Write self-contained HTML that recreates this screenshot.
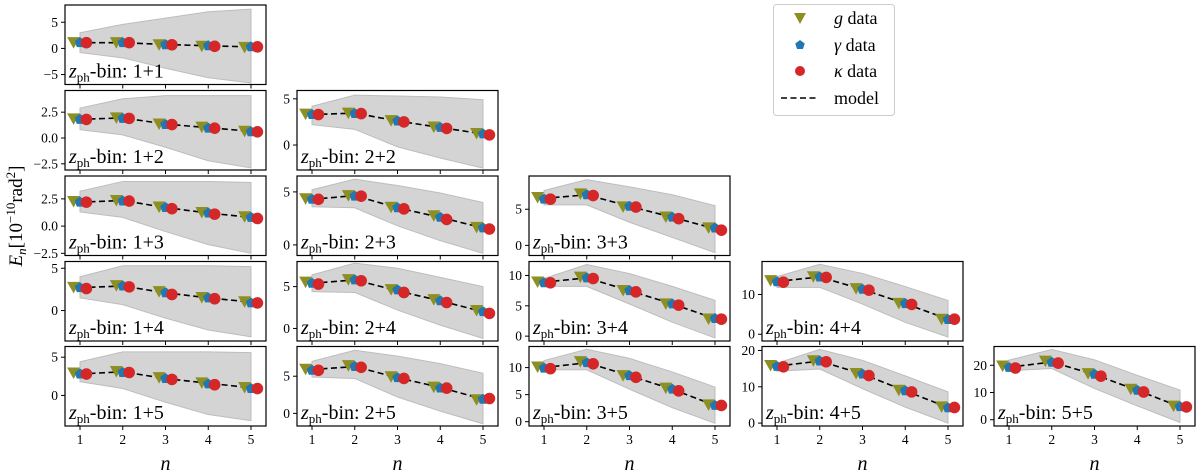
<!DOCTYPE html>
<html><head><meta charset="utf-8">
<style>
html,body{margin:0;padding:0;background:#fff;}
svg{display:block;font-family:"Liberation Serif","DejaVu Serif",serif;}
</style></head>
<body>
<svg id="chart" width="1200" height="471" viewBox="0 0 1200 471" xmlns="http://www.w3.org/2000/svg"></svg>
<script>
const panelLabels = ["1+1","1+2","2+2","1+3","2+3","3+3","1+4","2+4","3+4","4+4","1+5","2+5","3+5","4+5","5+5"];
const panelRows = [0,1,1,2,2,2,3,3,3,3,4,4,4,4,4];
const panelCols = [0,0,1,0,1,2,0,1,2,3,0,1,2,3,4];
const nValues = [1,2,3,4,5];
const gData = [
 [1.2,1.2,0.8,0.5,0.3],[1.9,2.0,1.4,1.1,0.7],[3.4,3.5,2.7,2.0,1.3],
 [2.3,2.4,1.8,1.3,0.9],[4.4,4.7,3.6,2.8,1.7],[6.7,7.2,5.4,4.0,2.5],
 [2.8,3.0,2.3,1.6,1.1],[5.6,5.9,4.7,3.5,2.2],[9.0,9.8,7.6,5.4,2.9],[13.6,14.6,11.6,7.9,3.9],
 [3.0,3.2,2.4,1.7,1.1],[6.0,6.5,5.0,3.6,1.9],[10.2,11.2,8.6,6.3,3.2],[16.0,17.3,13.8,9.2,4.6],[19.9,21.7,17.1,11.4,5.2]];
const gammaData = [
 [1.1,1.1,0.7,0.5,0.3],[1.8,1.9,1.3,0.95,0.6],[3.3,3.4,2.6,1.9,1.2],
 [2.2,2.3,1.7,1.2,0.8],[4.3,4.6,3.5,2.6,1.6],[6.4,7.0,5.4,3.9,2.4],
 [2.7,2.9,2.1,1.5,0.9],[5.4,5.8,4.6,3.3,2.0],[8.8,9.6,7.5,5.3,2.9],[13.2,14.4,11.3,7.7,3.7],
 [2.8,3.0,2.2,1.5,0.9],[5.8,6.3,4.8,3.4,1.9],[9.9,10.9,8.5,6.0,3.0],[15.6,17.1,13.5,8.9,4.2],[19.2,21.1,16.7,10.8,4.8]];
const kappaData = [
 [1.1,1.1,0.7,0.4,0.3],[1.8,1.9,1.3,0.95,0.6],[3.3,3.4,2.5,1.8,1.1],
 [2.2,2.3,1.6,1.1,0.7],[4.3,4.6,3.4,2.4,1.5],[6.4,6.9,5.3,3.7,2.1],
 [2.6,2.8,1.9,1.4,0.9],[5.3,5.7,4.3,3.1,1.8],[8.8,9.5,7.3,5.1,2.8],[13.1,14.3,11.1,7.5,3.8],
 [2.8,3.0,2.1,1.4,0.9],[5.8,6.2,4.7,3.4,2.0],[9.8,10.7,8.2,5.7,3.0],[15.5,16.9,13.1,8.6,4.3],[19.0,20.8,16.0,10.2,4.7]];
const modelData = [
 [1.1,1.1,0.75,0.5,0.3],[1.8,1.95,1.35,1.0,0.65],[3.3,3.45,2.6,1.9,1.2],
 [2.2,2.35,1.7,1.2,0.8],[4.3,4.65,3.5,2.6,1.6],[6.5,7.0,5.4,3.9,2.3],
 [2.7,2.9,2.1,1.5,1.0],[5.4,5.8,4.5,3.3,2.0],[8.9,9.6,7.5,5.3,2.9],[13.3,14.4,11.3,7.7,3.8],
 [2.8,3.1,2.2,1.6,1.0],[5.9,6.3,4.8,3.5,1.9],[10.0,10.9,8.5,6.0,3.0],[15.7,17.1,13.5,8.9,4.3],[19.3,21.2,16.6,10.8,4.8]];
const bandUpper = [
 [3.0,4.6,5.8,7.0,7.5],[2.9,3.8,4.1,4.1,4.1],[4.2,5.4,5.3,5.2,4.9],
 [3.2,4.1,4.1,4.1,4.0],[5.2,6.2,5.6,4.9,4.0],[7.6,9.1,8.1,7.0,5.5],
 [4.0,5.3,5.3,5.3,5.2],[6.4,7.8,7.2,6.1,5.0],[9.5,11.8,10.3,8.2,5.9],[14.5,17.6,15.3,12.0,8.5],
 [4.4,5.7,5.7,5.7,5.6],[7.0,8.5,7.7,6.7,5.4],[11.3,13.4,11.7,9.2,6.4],[16.5,20.3,17.3,13.0,8.6],[21.9,25.8,22.0,16.3,10.9]];
const bandLower = [
 [-0.8,-1.8,-3.8,-5.6,-6.6],[0.8,0.3,-0.9,-2.2,-2.9],[2.2,1.7,-0.2,-1.4,-2.5],
 [1.3,0.8,-0.5,-1.7,-2.5],[3.6,3.5,1.8,0.4,-0.8],[5.6,5.6,3.2,1.1,-1.0],
 [1.5,0.7,-0.9,-2.3,-3.1],[4.4,4.3,2.2,0.4,-1.2],[8.2,8.2,5.3,2.3,-0.3],[11.8,11.8,7.6,3.0,-0.7],
 [1.8,0.9,-0.9,-2.5,-3.3],[4.9,4.7,2.2,0.3,-1.4],[9.6,9.6,6.0,2.6,-0.3],[14.3,14.9,9.5,4.4,0.0],[18.0,18.8,11.5,5.1,-1.0]];
const yMin = [-6.9,-3.1,-2.7,-2.7,-1.0,-1.4,-3.6,-1.5,-0.8,-1.7,-4.0,-1.7,-0.8,-0.8,-2.3];
const yMax = [8.3,4.6,5.9,4.6,6.5,9.6,5.8,8.0,12.3,18.3,6.4,9.0,13.9,21.1,26.9];
const yTickValues = [[-5,0,5],[-2.5,0,2.5],[0,5],[-2.5,0,2.5],[0,5],[0,5],[0,5],[0,5],[0,5,10],[0,10],[0,5],[0,5],[0,5,10],[0,10,20],[0,10,20]];
const yTickLabels = [["−5","0","5"],["−2.5","0.0","2.5"],["0","5"],["−2.5","0.0","2.5"],["0","5"],["0","5"],["0","5"],["0","5"],["0","5","10"],["0","10"],["0","5"],["0","5"],["0","5","10"],["0","10","20"],["0","10","20"]];
const xTickLabels = ["1","2","3","4","5"];

const NS="http://www.w3.org/2000/svg";
const svg=document.getElementById('chart');
function mk(tag,attrs,parent){const e=document.createElementNS(NS,tag);for(const k in attrs)e.setAttribute(k,attrs[k]);(parent||svg).appendChild(e);return e;}
const colLeft=[65,297,529,762,994], rowTop=[5,90.5,176,261.5,346.5], PW=201, PH=79.5;
const OLIVE="#8e8f22", BLUE="#1f77b4", RED="#d62728";
const off=0.15;

for(let p=0;p<panelLabels.length;p++){
  const L=colLeft[panelCols[p]], T=rowTop[panelRows[p]];
  const g=mk('g',{});
  
  
  const xs=n=>L+15+(n-1)*(PW-30)/4;
  const ys=v=>T+PH-(v-yMin[p])/(yMax[p]-yMin[p])*PH;
  const clipId='clip'+p;
  const cp=mk('clipPath',{id:clipId},g);mk('rect',{x:L,y:T,width:PW,height:PH},cp);
  const inner=mk('g',{'clip-path':'url(#'+clipId+')'},g);
  let d='';
  nValues.forEach((n,i)=>{d+=(i?'L':'M')+xs(n)+','+ys(bandUpper[p][i]);});
  for(let i=nValues.length-1;i>=0;i--)d+='L'+xs(nValues[i])+','+ys(bandLower[p][i]);
  const band=mk('path',{d:d+'Z',fill:'#d4d4d4',stroke:'#bdbdbd','stroke-width':1},inner);
  
  
  const mpts=nValues.map((n,i)=>xs(n)+','+ys(modelData[p][i])).join(' ');
  const ml=mk('polyline',{points:mpts,fill:'none',stroke:'#000','stroke-width':1.6,'stroke-dasharray':'6,3.5'},inner);
  
  
  nValues.forEach((n,i)=>{
    const tx=xs(n-off), ty=ys(gData[p][i]);
    const tri=mk('path',{d:`M${tx-6.5},${ty-5} L${tx+6.5},${ty-5} L${tx},${ty+6.5}Z`,fill:OLIVE},inner);
    
    
    const px=xs(n), py=ys(gammaData[p][i]);let pd='';
    for(let k=0;k<5;k++){const a=-Math.PI/2+k*2*Math.PI/5;pd+=(k?'L':'M')+(px+5.5*Math.cos(a))+','+(py+5.5*Math.sin(a));}
    const pen=mk('path',{d:pd+'Z',fill:BLUE},inner);
    
    
    const c=mk('circle',{cx:xs(n+off),cy:ys(kappaData[p][i]),r:5.8,fill:RED},inner);
    
    
  });
  const fr=mk('rect',{x:L,y:T,width:PW,height:PH,fill:'none',stroke:'#000','stroke-width':1.2},g);
  
  
  yTickValues[p].forEach((v,i)=>{
    const y=ys(v);
    mk('line',{x1:L-4,x2:L,y1:y,y2:y,stroke:'#000','stroke-width':1},g);
    const t=mk('text',{x:L-7,y:y+4.5,'text-anchor':'end','font-size':13.5},g);
    t.textContent=yTickLabels[p][i];
    
    
  });
  nValues.forEach((n,i)=>{
    const x=xs(n);
    mk('line',{x1:x,x2:x,y1:T+PH,y2:T+PH+4,stroke:'#000','stroke-width':1},g);
    if(panelRows[p]===4){
      const t=mk('text',{x:x,y:T+PH+18,'text-anchor':'middle','font-size':13.5},g);
      t.textContent=xTickLabels[i];
      
      
    }
  });
  if(panelRows[p]===4){
    const xl=mk('text',{x:L+PW/2,y:T+PH+44,'text-anchor':'middle','font-size':20,'font-style':'italic'},g);
    xl.textContent='n';
    
    
  }
  const bl=mk('text',{x:L+4,y:T+PH-7,'font-size':20},g);
  
  
  const z=mk('tspan',{'font-style':'italic'},bl);z.textContent='z';
  const s=mk('tspan',{dy:4,'font-size':13},bl);s.textContent='ph';
  const r=mk('tspan',{dy:-4},bl);r.textContent='-bin:  '+panelLabels[p];
}
const yt=mk('text',{x:0,y:0,'font-size':19,'text-anchor':'middle',transform:'translate(22,216) rotate(-90)'});


const e1=mk('tspan',{'font-style':'italic'},yt);e1.textContent='E';
const e2=mk('tspan',{dy:4,'font-size':13,'font-style':'italic'},yt);e2.textContent='n';
const e3=mk('tspan',{dy:-4},yt);e3.textContent='[10';
const e4=mk('tspan',{dy:-7,'font-size':13},yt);e4.textContent='−10';
const e5=mk('tspan',{dy:7},yt);e5.textContent='rad';
const e6=mk('tspan',{dy:-7,'font-size':13},yt);e6.textContent='2';
const e7=mk('tspan',{dy:7},yt);e7.textContent=']';
const lg=mk('g',{});


mk('rect',{x:773.5,y:4.5,width:121,height:111,rx:3,fill:'#fff',stroke:'#cccccc','stroke-width':1},lg);
const legY=[18,45,71,98];
const legTxt=[['g',' data'],['γ',' data'],['κ',' data'],['','model']];
mk('path',{d:`M${800-6},${legY[0]-5} L${800+6},${legY[0]-5} L800,${legY[0]+6}Z`,fill:OLIVE},lg);
let lp='';for(let k=0;k<5;k++){const a=-Math.PI/2+k*2*Math.PI/5;lp+=(k?'L':'M')+(800+5*Math.cos(a))+','+(legY[1]+5*Math.sin(a));}
mk('path',{d:lp+'Z',fill:BLUE},lg);
mk('circle',{cx:800,cy:legY[2],r:5,fill:RED},lg);
mk('line',{x1:781,x2:819,y1:legY[3],y2:legY[3],stroke:'#000','stroke-width':1.6,'stroke-dasharray':'6,3.5'},lg);
legTxt.forEach((t,i)=>{
  const tx=mk('text',{x:834,y:legY[i]+6,'font-size':18},lg);
  
  
  if(t[0]){const a=mk('tspan',{'font-style':'italic'},tx);a.textContent=t[0];}
  const b=mk('tspan',{},tx);b.textContent=t[1];
});
</script>
</body></html>
